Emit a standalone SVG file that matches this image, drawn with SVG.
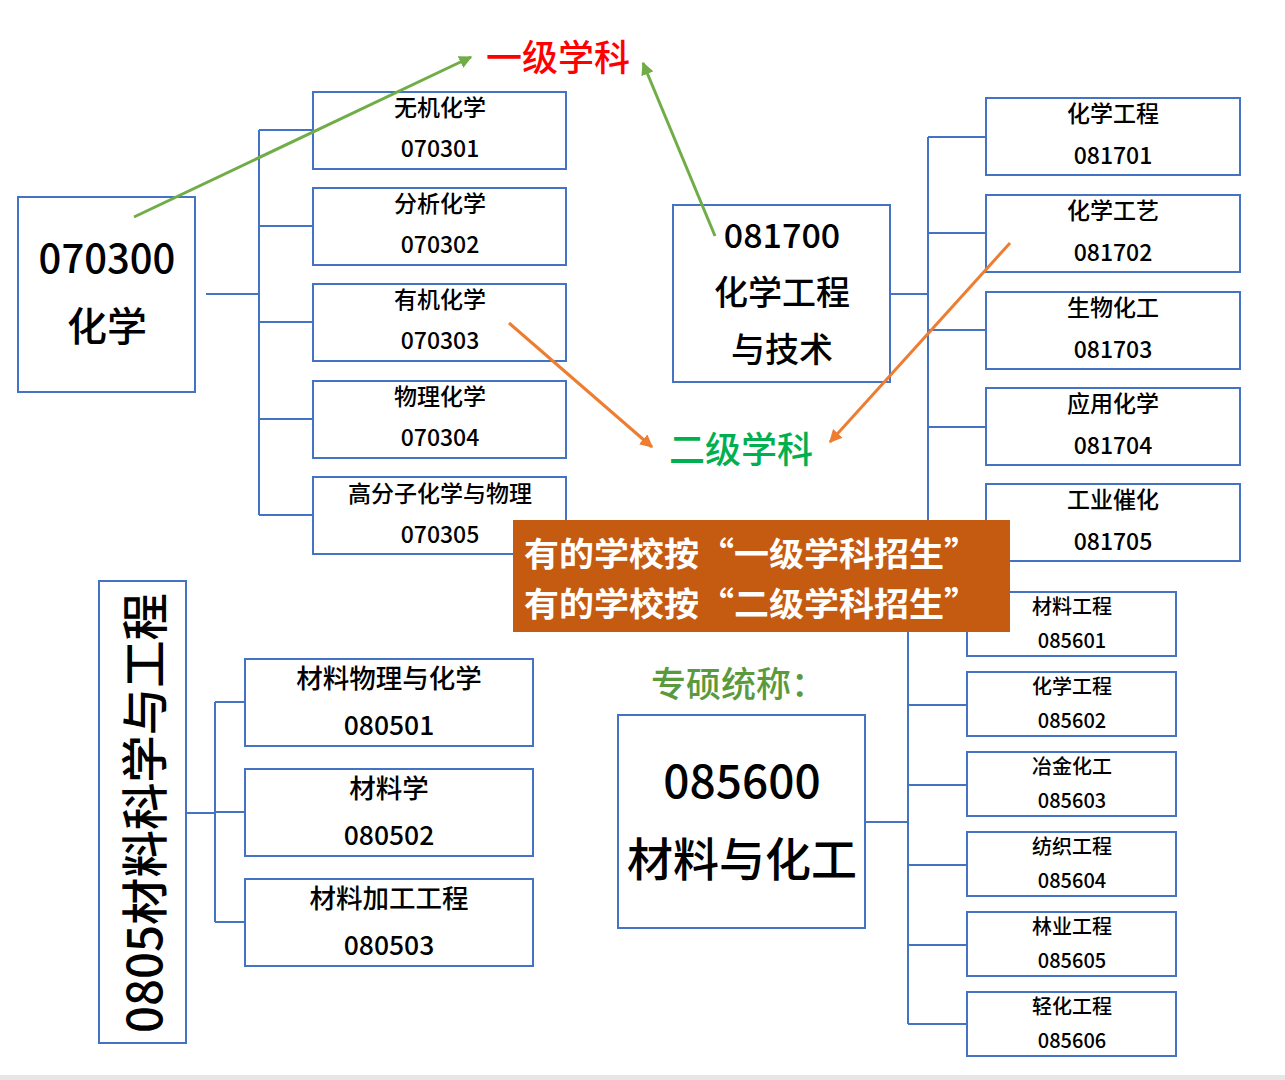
<svg xmlns="http://www.w3.org/2000/svg" width="1285" height="1080" viewBox="0 0 1285 1080">
<defs>
<style>
text{font-family:"Noto Sans CJK SC","Liberation Sans",sans-serif;fill:#000;text-anchor:middle;dominant-baseline:central;font-weight:500}
.box{fill:#fff;stroke:#4472C4;stroke-width:2}
.ln{fill:none;stroke:#4472C4;stroke-width:2}
.s23{font-size:23px}
.s27{font-size:26.5px}
.s20{font-size:20px}
.g{stroke:#70AD47;stroke-width:3;fill:none}
.o{stroke:#ED7D31;stroke-width:3;fill:none}
</style>
<marker id="ag" viewBox="0 0 10 10" refX="9" refY="5" markerWidth="13" markerHeight="13" markerUnits="userSpaceOnUse" orient="auto"><path d="M0,0 L10,5 L0,10 z" fill="#70AD47"/></marker>
<marker id="ao" viewBox="0 0 10 10" refX="9" refY="5" markerWidth="13" markerHeight="13" markerUnits="userSpaceOnUse" orient="auto"><path d="M0,0 L10,5 L0,10 z" fill="#ED7D31"/></marker>
</defs>
<rect x="0" y="0" width="1285" height="1080" fill="#fff"/>
<rect x="0" y="1075" width="1285" height="5" fill="#E6E6E6"/>

<g id="connectors">
<path class="ln" d="M206,294 H259 M259,130 V515 M259,130 H313 M259,226 H313 M259,322 H313 M259,419 H313 M259,515 H313"/>
<path class="ln" d="M891,294 H928 M928,137 V523 M928,137 H986 M928,233 H986 M928,330 H986 M928,427 H986 M928,523 H986"/>
<path class="ln" d="M187,813 H215 M215,702 V922 M215,702 H245 M215,812 H245 M215,922 H245"/>
<path class="ln" d="M866,822 H908 M908,624 V1024 M908,624 H967 M908,705 H967 M908,785 H967 M908,865 H967 M908,945 H967 M908,1024 H967"/>
</g>

<g id="n070300"><rect class="box" x="18" y="197" width="177" height="195"/>
<text x="107" y="256" style="font-size:40px">070300</text><text x="107" y="324" style="font-size:40px">化学</text></g>

<g id="n070301"><rect class="box" x="313" y="92" width="253" height="77"/><text class="s23" x="440" y="106">无机化学</text><text class="s23" x="440" y="147">070301</text></g>
<g id="n070302"><rect class="box" x="313" y="188" width="253" height="77"/><text class="s23" x="440" y="202">分析化学</text><text class="s23" x="440" y="243">070302</text></g>
<g id="n070303"><rect class="box" x="313" y="284" width="253" height="77"/><text class="s23" x="440" y="298">有机化学</text><text class="s23" x="440" y="339">070303</text></g>
<g id="n070304"><rect class="box" x="313" y="381" width="253" height="77"/><text class="s23" x="440" y="395">物理化学</text><text class="s23" x="440" y="436">070304</text></g>
<g id="n070305"><rect class="box" x="313" y="477" width="253" height="77"/><text class="s23" x="440" y="492">高分子化学与物理</text><text class="s23" x="440" y="533">070305</text></g>

<g id="n081700"><rect class="box" x="673" y="205" width="217" height="177"/>
<text x="782" y="233" style="font-size:34px">081700</text><text x="782" y="290" style="font-size:34px">化学工程</text><text x="782" y="347" style="font-size:34px">与技术</text></g>

<g id="n081701"><rect class="box" x="986" y="98" width="254" height="77"/><text class="s23" x="1113" y="112">化学工程</text><text class="s23" x="1113" y="154">081701</text></g>
<g id="n081702"><rect class="box" x="986" y="195" width="254" height="77"/><text class="s23" x="1113" y="209">化学工艺</text><text class="s23" x="1113" y="251">081702</text></g>
<g id="n081703"><rect class="box" x="986" y="292" width="254" height="77"/><text class="s23" x="1113" y="306">生物化工</text><text class="s23" x="1113" y="348">081703</text></g>
<g id="n081704"><rect class="box" x="986" y="388" width="254" height="77"/><text class="s23" x="1113" y="402">应用化学</text><text class="s23" x="1113" y="444">081704</text></g>
<g id="n081705"><rect class="box" x="986" y="484" width="254" height="77"/><text class="s23" x="1113" y="498">工业催化</text><text class="s23" x="1113" y="540">081705</text></g>

<g id="n0805"><rect class="box" x="99" y="581" width="87" height="462"/>
<text transform="translate(141,813) rotate(-90)" style="font-size:47px" textLength="440" lengthAdjust="spacingAndGlyphs">0805材料科学与工程</text></g>

<g id="n080501"><rect class="box" x="245" y="659" width="288" height="87"/><text class="s27" x="389" y="676">材料物理与化学</text><text class="s27" x="389" y="723">080501</text></g>
<g id="n080502"><rect class="box" x="245" y="769" width="288" height="87"/><text class="s27" x="389" y="786">材料学</text><text class="s27" x="389" y="833">080502</text></g>
<g id="n080503"><rect class="box" x="245" y="879" width="288" height="87"/><text class="s27" x="389" y="896">材料加工工程</text><text class="s27" x="389" y="943">080503</text></g>

<g id="n085600"><rect class="box" x="618" y="715" width="247" height="213"/>
<text x="742" y="778" style="font-size:46px">085600</text><text x="742" y="856" style="font-size:46px">材料与化工</text></g>

<g id="n085601"><rect class="box" x="967" y="592" width="209" height="64"/><text class="s20" x="1072" y="605">材料工程</text><text class="s20" x="1072" y="639">085601</text></g>
<g id="n085602"><rect class="box" x="967" y="672" width="209" height="64"/><text class="s20" x="1072" y="685">化学工程</text><text class="s20" x="1072" y="719">085602</text></g>
<g id="n085603"><rect class="box" x="967" y="752" width="209" height="64"/><text class="s20" x="1072" y="765">冶金化工</text><text class="s20" x="1072" y="799">085603</text></g>
<g id="n085604"><rect class="box" x="967" y="832" width="209" height="64"/><text class="s20" x="1072" y="845">纺织工程</text><text class="s20" x="1072" y="879">085604</text></g>
<g id="n085605"><rect class="box" x="967" y="912" width="209" height="64"/><text class="s20" x="1072" y="925">林业工程</text><text class="s20" x="1072" y="959">085605</text></g>
<g id="n085606"><rect class="box" x="967" y="992" width="209" height="64"/><text class="s20" x="1072" y="1005">轻化工程</text><text class="s20" x="1072" y="1039">085606</text></g>

<g id="arrows">
<line class="g" x1="134" y1="217" x2="471" y2="57" marker-end="url(#ag)"/>
<line class="g" x1="715" y1="236" x2="643" y2="63" marker-end="url(#ag)"/>
<line class="o" x1="509" y1="323" x2="652" y2="447" marker-end="url(#ao)"/>
<line class="o" x1="1010" y1="243" x2="830" y2="442" marker-end="url(#ao)"/>
</g>

<g id="label1"><text x="558" y="55" style="font-size:36px;fill:#FF0000">一级学科</text></g>
<g id="label2"><text x="741" y="447" style="font-size:36px;fill:#00B050">二级学科</text></g>
<g id="label3"><text x="651" y="681" style="font-size:35px;fill:#5A9A3C;text-anchor:start">专硕统称：</text></g>

<g id="note"><rect x="513" y="520" width="497" height="112" fill="#C55A11"/>
<text style="font-size:33.5px;fill:#fff;font-weight:bold;text-anchor:start"><tspan x="524" y="551" textLength="455" lengthAdjust="spacingAndGlyphs">有的学校按“一级学科招生”</tspan><tspan x="524" y="601" textLength="455" lengthAdjust="spacingAndGlyphs">有的学校按“二级学科招生”</tspan></text></g>
</svg>
